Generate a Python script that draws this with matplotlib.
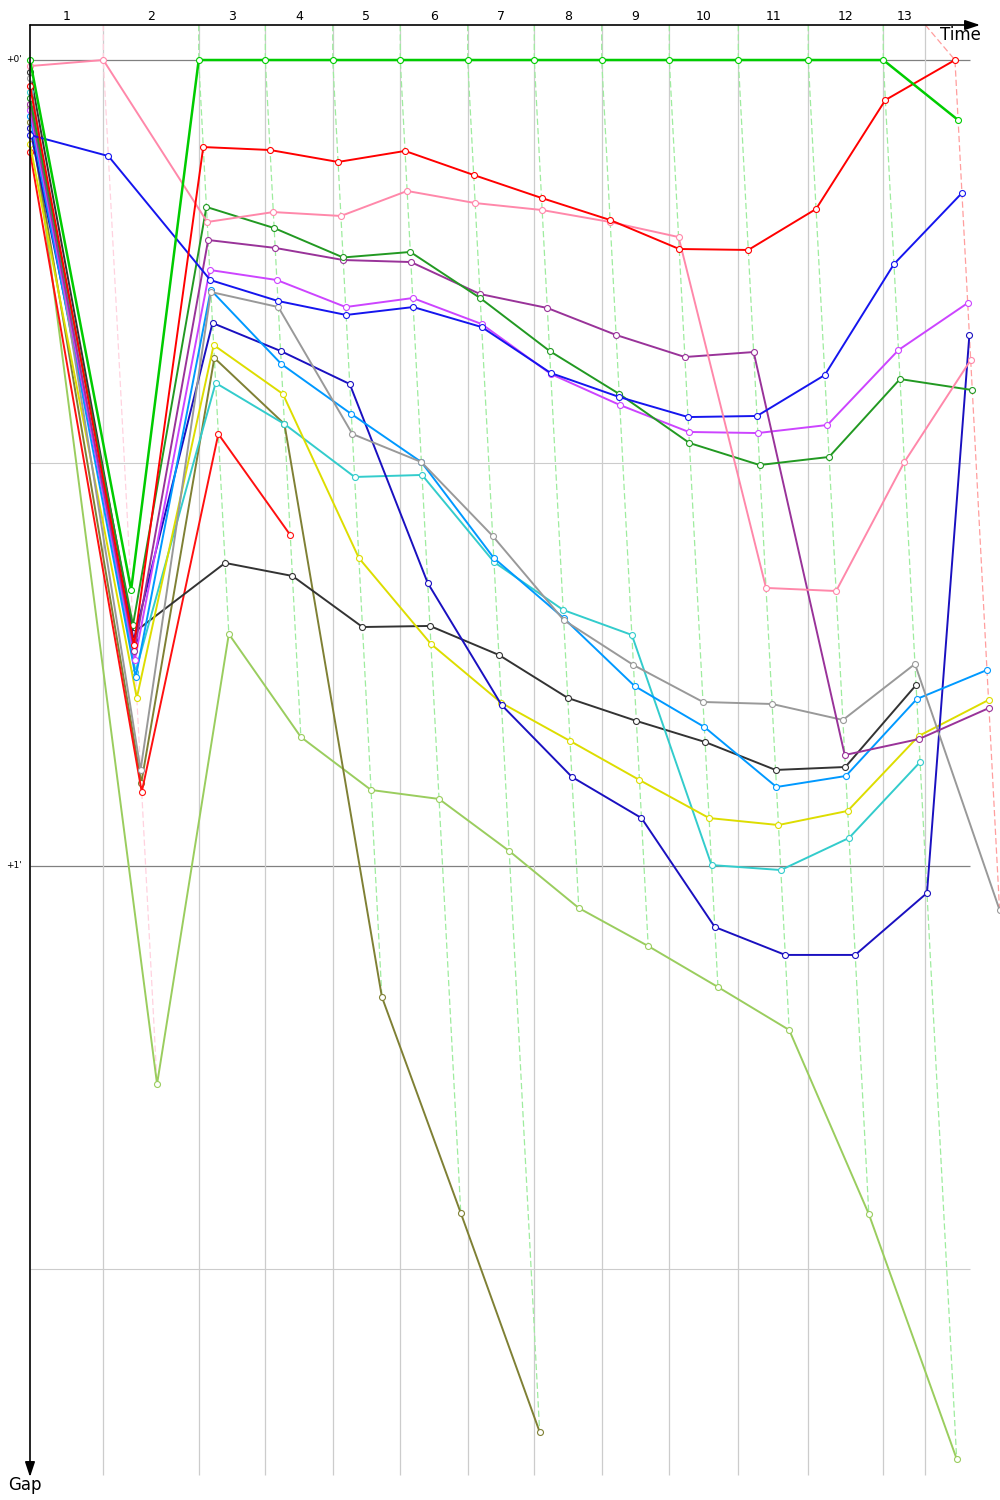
import matplotlib
matplotlib.use('Agg')
import matplotlib.pyplot as plt
from matplotlib.colors import to_rgb
import numpy as np

# ---------------- data (seconds) ----------------
# leader's lap completion times for laps 1..13
lead_lap_times = [104.0, 239.3, 333.8, 429.4, 525.2, 620.8, 715.3, 810.9,
                  906.8, 1004.7, 1103.9, 1210.3, 1312.0]
# vertical time grid lines (lap boundaries)
time_lines = [104.0, 239.3, 333.8, 429.4, 525.2, 620.8, 715.3, 810.9,
              906.8, 1004.7, 1103.9, 1210.3, 1270.0]
lap_labels = [str(i) for i in range(1, 14)]

# gap to leader in seconds: [start, lap1 .. lap13]
green      = [0.0, 39.45, 0.0, 0.0, 0.0, 0.0, 0.0, 0.0, 0.0, 0.0, 0.0, 0.0, 0.0, 4.47]
red        = [1.94, 43.55, 6.48, 6.70, 7.59, 6.77, 8.56, 10.27, 11.91, 14.07, 14.14, 11.09, 2.98, 0.0]
pink       = [0.45, 0.0, 12.06, 11.32, 11.61, 9.75, 10.65, 11.17, 12.06, 13.18, 39.30, 39.53, 29.93, 22.33]
blue       = [5.58, 7.15, 16.38, 17.94, 18.98, 18.39, 19.88, 23.30, 25.09, 26.58, 26.50, 23.45, 15.19, 9.90]
dark_green = [2.83, 42.06, 10.94, 12.51, 14.70, 14.29, 17.72, 21.66, 24.86, 28.51, 30.15, 29.55, 23.75, 24.57]
purple     = [3.28, 44.00, 13.40, 13.99, 14.89, 15.04, 17.42, 18.46, 20.47, 22.11, 21.74, 51.74, 50.55, 48.24]
magenta    = [3.72, 44.66, 15.63, 16.38, 18.39, 17.72, 19.65, 23.37, 25.68, 27.69, 27.77, 27.17, 21.59, 18.09]
gray       = [1.34, 52.85, 17.27, 18.39, 27.84, 29.93, 35.43, 41.69, 45.04, 47.79, 47.94, 49.13, 44.96, 63.27]
navy       = [5.06, 43.18, 19.58, 21.66, 24.12, 38.93, 48.01, 53.37, 56.43, 64.54, 66.62, 66.62, 62.01, 20.47]
sky        = [4.17, 45.93, 17.12, 22.63, 26.35, 29.93, 37.07, 41.54, 46.60, 49.65, 54.12, 53.30, 47.57, 45.41]
cyan       = [2.38, 45.56, 24.04, 27.10, 31.04, 30.89, 37.37, 40.94, 42.80, 59.93, 60.30, 57.91, 52.26]
yellow     = [6.25, 47.49, 21.22, 24.86, 37.07, 43.47, 47.86, 50.69, 53.60, 56.43, 56.95, 55.90, 50.32, 47.64]
olive      = [4.62, 53.82, 22.18, 27.10, 69.75, 85.83, 102.13]
black      = [0.89, 42.65, 37.44, 38.41, 42.21, 42.13, 44.29, 47.49, 49.20, 50.77, 52.85, 52.63, 46.53]
light_green = [3.50, 76.23, 42.73, 50.40, 54.34, 55.01, 58.88, 63.13, 65.96, 69.01, 72.21, 85.91, 104.14]
red2       = [6.85, 54.49, 27.84, 35.36]

series = [
    (light_green, '#9acd5e'),
    (olive, '#7f8034'),
    (red2, '#ff1010'),
    (black, '#333333'),
    (cyan, '#33cccc'),
    (yellow, '#dddd00'),
    (navy, '#1a10c0'),
    (sky, '#0099ff'),
    (gray, '#999999'),
    (magenta, '#cc44ff'),
    (purple, '#993399'),
    (dark_green, '#229922'),
    (blue, '#1515ee'),
    (pink, '#ff88aa'),
    (red, '#ff0000'),
    (green, '#00cc00'),
]

# ---------------- figure ----------------
PX_PER_MIN_X = 42.3
PX_PER_MIN_Y = 806.0
fig = plt.figure(figsize=(10, 15), dpi=100)
ax = fig.add_axes([0, 0, 1, 1])
ax.set_xlim(-30 / PX_PER_MIN_X, 970 / PX_PER_MIN_X)
ax.set_ylim(1440 / PX_PER_MIN_Y, -60 / PX_PER_MIN_Y)
ax.axis('off')


def px_x(p):
    return (p - 30) / PX_PER_MIN_X


def px_y(p):
    return (p - 60) / PX_PER_MIN_Y


top = px_y(25)
bottom = px_y(1475)
hend = px_x(970)

# horizontal gap lines
ax.hlines([0.5, 1.5], 0, hend, color='#cccccc', lw=0.8, zorder=1)
ax.hlines([0.0, 1.0], 0, hend, color='#808080', lw=0.9, zorder=1)
# vertical lap lines
ax.vlines(np.array(time_lines) / 60, top, bottom, color='#cccccc', lw=0.9, zorder=1)


def light(c, f=0.33):
    r, g, b = to_rgb(c)
    return (1 - f * (1 - r), 1 - f * (1 - g), 1 - f * (1 - b))


# dashed lap lines (colored by lap leader)
for k in range(len(lead_lap_times)):
    gaps = [(s[k + 1], c) for s, c in series if len(s) > k + 1]
    lead_c = min(gaps, key=lambda t: t[0])[1]
    gmax = max(g for g, _ in gaps) / 60
    lx = lead_lap_times[k] / 60
    xs = [time_lines[k] / 60, lx, lx + gmax]
    ys = [top, 0.0, gmax]
    ax.plot(xs, ys, color=light(lead_c, 0.38), lw=0.9, ls=(0, (5, 2.5)), zorder=2)

# driver lines
for s, c in series:
    xs = [0.0] + [(lead_lap_times[i] + s[i + 1]) / 60 for i in range(len(s) - 1)]
    ys = [g / 60 for g in s]
    lw = 1.8 if c == '#00cc00' else 1.4
    ax.plot(xs, ys, color=c, lw=lw, marker='o', ms=4.3, mfc='white',
            mec=c, mew=0.8, zorder=3)

# axes with arrows
ax.annotate('', xy=(px_x(980), top), xytext=(0, top),
            arrowprops=dict(arrowstyle='-|>,head_length=0.9,head_width=0.3',
                            color='black', lw=1.2, shrinkA=0, shrinkB=0),
            zorder=5, annotation_clip=False)
ax.annotate('', xy=(0, px_y(1477)), xytext=(0, top),
            arrowprops=dict(arrowstyle='-|>,head_length=0.9,head_width=0.3',
                            color='black', lw=1.2, shrinkA=0, shrinkB=0),
            zorder=5, annotation_clip=False)

ax.text(px_x(960), px_y(35), 'Time', ha='center', va='center', fontsize=12,
        family='DejaVu Sans')
ax.text(px_x(25), px_y(1485), 'Gap', ha='center', va='center', fontsize=12,
        family='DejaVu Sans')

# lap labels
bounds = [0.0] + time_lines
for i, lab in enumerate(lap_labels):
    xm = (bounds[i] + bounds[i + 1]) / 2 / 60
    ax.text(xm, px_y(17), lab, ha='center', va='center',
            fontsize=9, family='DejaVu Sans')

# gap labels
for g, lab in [(0.0, "+0'"), (1.0, "+1'")]:
    ax.text(px_x(22), g, lab, ha='right', va='center', fontsize=6.5,
            family='DejaVu Sans')

fig.savefig('out.png', dpi=100)
